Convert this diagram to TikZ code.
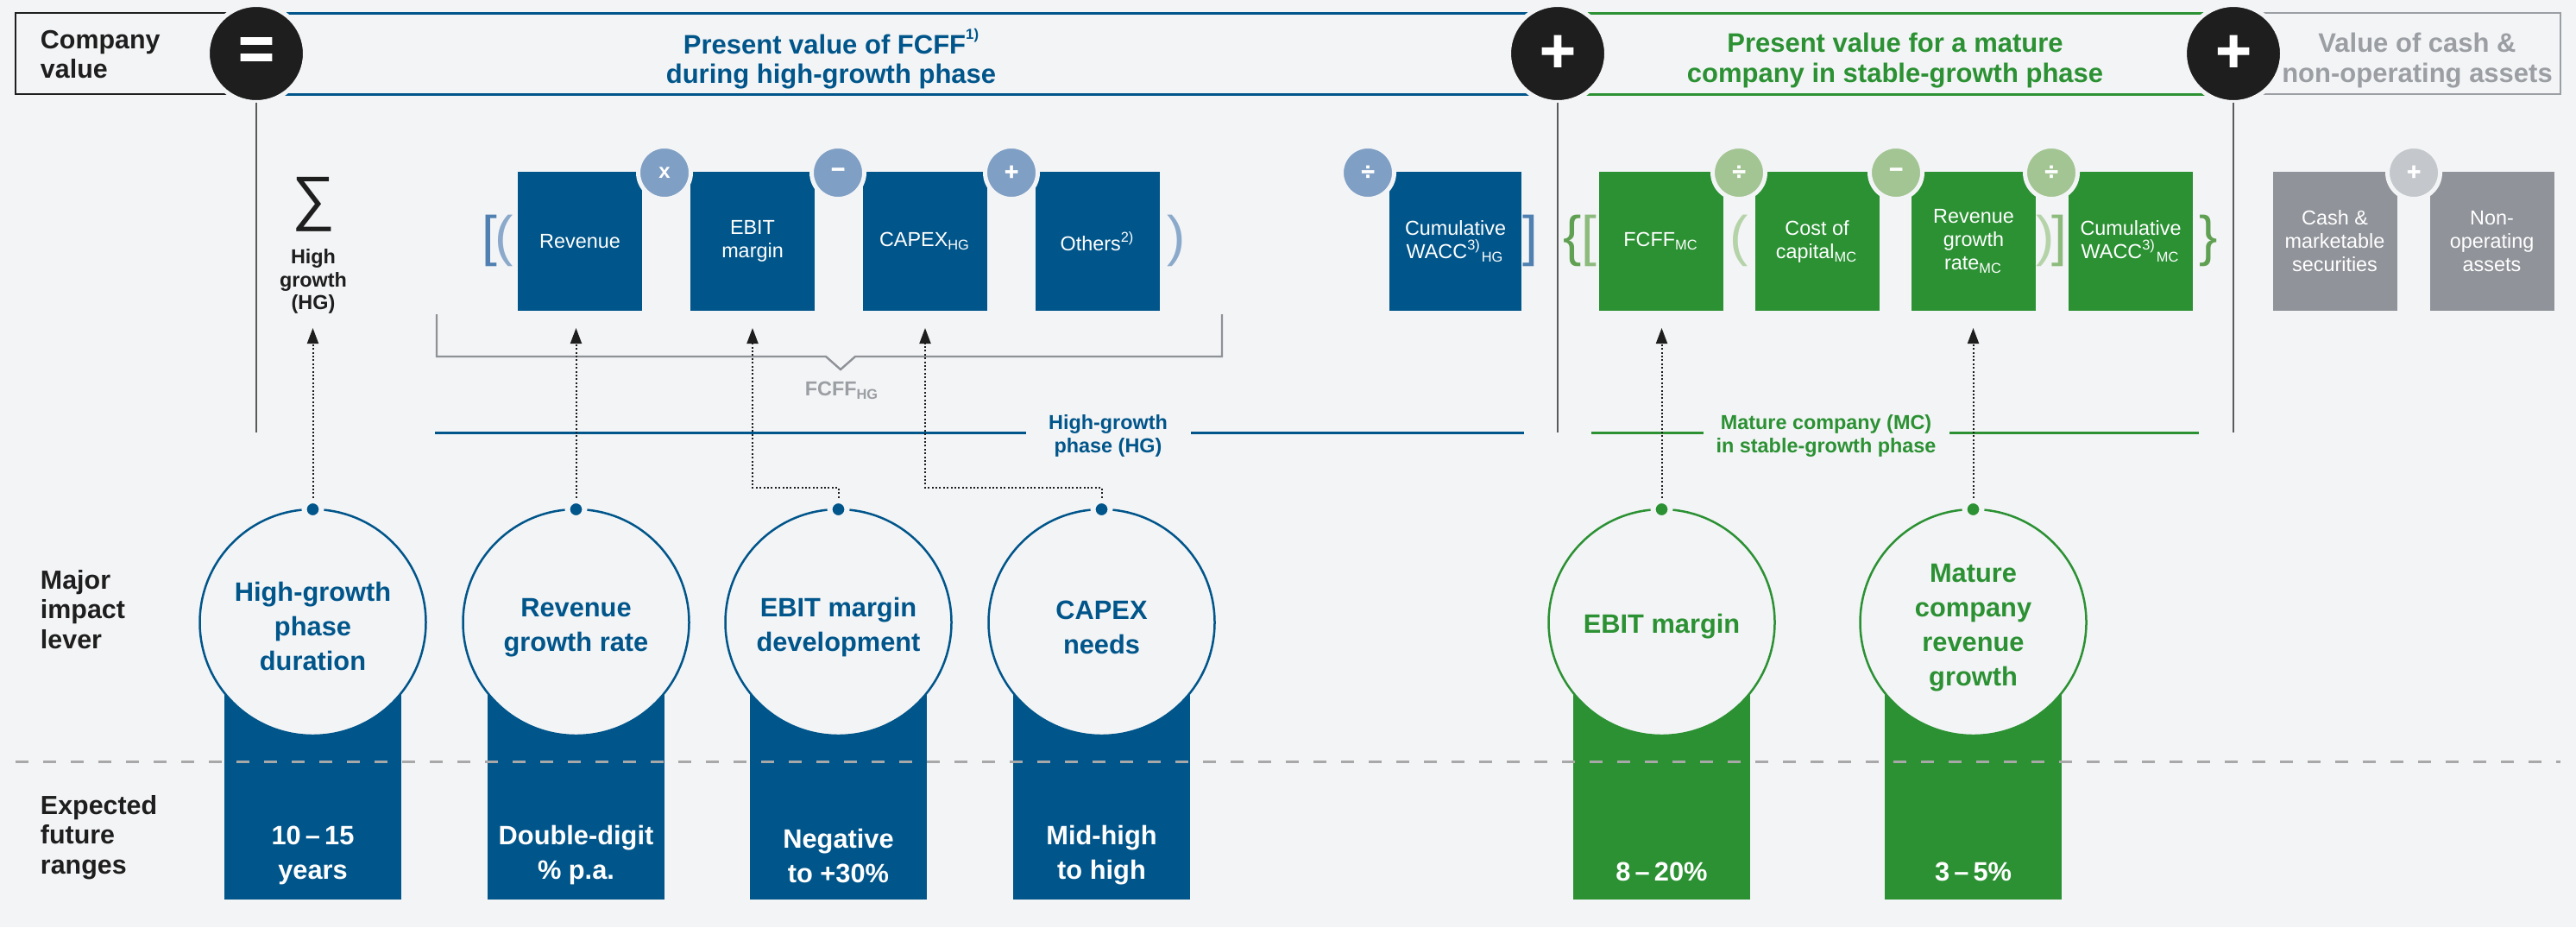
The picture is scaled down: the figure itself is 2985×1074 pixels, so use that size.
\documentclass[tikz,border=0pt]{standalone}
\usepackage{fontspec}
\setmainfont{Liberation Sans}
\newfontfamily\opfont{Liberation Sans}[FakeBold=1.5]
\usetikzlibrary{arrows.meta,calc}
\definecolor{bgc}{HTML}{F3F4F6}
\definecolor{dblue}{HTML}{00558A}
\definecolor{dgreen}{HTML}{2B9133}
\definecolor{lblue}{HTML}{7F9FC5}
\definecolor{lgreen}{HTML}{A3C593}
\definecolor{gbox}{HTML}{909399}
\definecolor{lgrey}{HTML}{C4C7CB}
\definecolor{gtext}{HTML}{9B9EA3}
\definecolor{blk}{HTML}{1E1E1E}
\definecolor{vlc}{HTML}{5A5A5A}
\definecolor{brc}{HTML}{8E9297}
\definecolor{dashc}{HTML}{A8A8A8}
\definecolor{bblue}{HTML}{4F80B1}
\definecolor{pblue}{HTML}{8BAACB}
\definecolor{bgreen}{HTML}{5FA052}
\definecolor{pgreen}{HTML}{8DBB7D}
\definecolor{ppgreen}{HTML}{B5D3A8}
\newcommand{\tsup}[1]{\raisebox{0.55em}{\fontsize{4.2}{4.2}\selectfont #1}}
\tikzset{
 hdtitle/.style={align=center, font=\bfseries\fontsize{7.75}{8.6}\selectfont},
 sidelbl/.style={align=left, anchor=west, text=blk, font=\bfseries\fontsize{7.6}{8.6}\selectfont},
 compbox/.style={rectangle, minimum width=36pt, minimum height=40.25pt, align=center, text=white, font=\fontsize{5.85}{6.75}\selectfont},
 opc/.style={circle, minimum size=15.25pt, draw=bgc, line width=1.25pt, text=white, font=\opfont\bfseries\fontsize{7}{7}\selectfont},
 bigop/.style={circle, minimum size=28.25pt, fill=blk, draw=bgc, line width=1.25pt, text=white, font=\opfont\bfseries\fontsize{17.75}{18}\selectfont},
 brkt/.style={font=\fontsize{16}{16}\selectfont},
 lever/.style={circle, minimum size=65.5pt, fill=bgc, line width=0.625pt},
 levtxt/.style={align=center, font=\bfseries\fontsize{7.7}{10}\selectfont},
 dotn/.style={circle, minimum size=5pt, draw=bgc, line width=1.5pt},
 rtxt/.style={align=center, text=white, font=\bfseries\fontsize{7.7}{10}\selectfont},
 phaselbl/.style={align=center, font=\bfseries\fontsize{5.85}{6.75}\selectfont},
 dotarr/.style={draw=blk, line width=0.5pt, dash pattern=on 0.5pt off 0.6pt, -{Triangle[length=4.5pt,width=3.25pt]}},
 vl/.style={draw=vlc, line width=0.5pt},
 band/.style={line width=0.75pt},
}
\begin{document}
\begin{tikzpicture}[x=0.25pt,y=-0.25pt, every node/.style={inner sep=0pt, outer sep=0pt}]
\fill[bgc] (0,0) rectangle (2985,1074);
\useasboundingbox (0,0) rectangle (2985,1074);

% ---------- header bands
\draw[blk, line width=0.5pt] (297,15) -- (18,15) -- (18,109) -- (297,109);
\draw[dblue, band] (297,15) -- (1805,15) (297,109) -- (1805,109);
\draw[dgreen, band] (1805,15) -- (2588,15) (1805,109) -- (2588,109);
\draw[gtext, line width=0.6pt] (2588,15) -- (2967,15) -- (2967,109) -- (2588,109);

\node[bigop] (eq) at (297,62) {=};
\node[bigop] (plusA) at (1805,62) {+};
\node[bigop] (plusB) at (2588,62) {+};

\node[sidelbl] (cv) at (47,63) {Company\\value};
\node[hdtitle, text=dblue] (t1) at (963,68) {Present value of FCFF\tsup{1)}\\during high-growth phase};
\node[hdtitle, text=dgreen] (t2) at (2196,70) {Present value for a mature\\company in stable-growth phase};
\node[hdtitle, text=gtext] (t3) at (2801,70) {Value of cash \&\\non-operating assets};

% vertical separators
\coordinate (vA) at (297,501);
\coordinate (vB) at (1805,501);
\coordinate (vC) at (2588,501);
\draw[vl] (eq.south) -- (vA);
\draw[vl] (plusA.south) -- (vB);
\draw[vl] (plusB.south) -- (vC);

% ---------- sigma
\node[font=\fontsize{17.5}{18}\selectfont, text=blk] (sig) at (363,237) {∑};
\node[phaselbl, text=blk, font=\bfseries\fontsize{5.85}{6.6}\selectfont] (hg) at (363,326) {High\\growth\\(HG)};

% ---------- component boxes
\node[compbox, fill=dblue] (rev) at (672,279.5) {Revenue};
\node[compbox, fill=dblue] (ebit) at (872,279.5) {EBIT\\margin};
\node[compbox, fill=dblue] (capex) at (1072,279.5) {CAPEX\textsubscript{HG}};
\node[compbox, fill=dblue] (oth) at (1272,279.5) {Others\textsuperscript{2)}};
\node[compbox, fill=dblue, minimum width=38.25pt] (wacchg) at (1686.5,279.5) {Cumulative\\WACC\textsuperscript{3)}\textsubscript{HG}};
\node[compbox, fill=dgreen] (fcffmc) at (1925,279.5) {FCFF\textsubscript{MC}};
\node[compbox, fill=dgreen] (cost) at (2105.5,279.5) {Cost of\\capital\textsubscript{MC}};
\node[compbox, fill=dgreen] (rgr) at (2287,279.5) {Revenue\\growth\\rate\textsubscript{MC}};
\node[compbox, fill=dgreen] (waccmc) at (2469,279.5) {Cumulative\\WACC\textsuperscript{3)}\textsubscript{MC}};
\node[compbox, fill=gbox] (cash) at (2705.5,279.5) {Cash \&\\marketable\\securities};
\node[compbox, fill=gbox] (nonop) at (2887.5,279.5) {Non-\\operating\\assets};

% operators
\node[opc, fill=lblue, font=\bfseries\fontsize{6}{6}\selectfont] (o1) at (770,200) {x};
\node[opc, fill=lblue] (o2) at (971,200) {−};
\node[opc, fill=lblue] (o3) at (1172,200) {+};
\node[opc, fill=lblue] (o4) at (1585,200) {÷};
\node[opc, fill=lgreen] (o5) at (2015,200) {÷};
\node[opc, fill=lgreen] (o6) at (2197,200) {−};
\node[opc, fill=lgreen] (o7) at (2377,200) {÷};
\node[opc, fill=lgrey] (o8) at (2797,200) {+};

% brackets
\node[brkt, text=bblue] (b1) at (567.5,279) {[};
\node[brkt, text=pblue] (b2) at (584.5,279) {(};
\node[brkt, text=pblue] (b3) at (1363,279) {)};
\node[brkt, text=bblue] (b4) at (1773.5,279) {]};
\node[brkt, text=bgreen] (b5) at (1822,279) {\{};
\node[brkt, text=pgreen] (b6) at (1841.5,279) {[};
\node[brkt, text=ppgreen] (b7) at (2015.5,279) {(};
\node[brkt, text=ppgreen] (b8) at (2370,279) {)};
\node[brkt, text=pgreen] (b9) at (2386.5,279) {]};
\node[brkt, text=bgreen] (b10) at (2559,279) {\}};

% FCFF HG bracket
\draw[brc, line width=0.6pt] (506,364) -- (506,413) -- (957,413) -- (974,428) -- (991,413) -- (1416,413) -- (1416,364);
\node[phaselbl, text=gtext] (fcffhg) at (976,452) {FCFF\textsubscript{HG}};

% phase lines
\node[phaselbl, text=dblue] (phg) at (1284,505) {High-growth\\phase (HG)};
\draw[dblue, band] (504,501) -- (1189,501) (1380,501) -- (1766,501);
\node[phaselbl, text=dgreen] (pmc) at (2116,505) {Mature company (MC)\\in stable-growth phase};
\draw[dgreen, band] (1844,501) -- (1974,501) (2259,501) -- (2548,501);

% ---------- lever rects
\fill[dblue] (260,803) rectangle (465,1042);
\fill[dblue] (565,803) rectangle (770,1042);
\fill[dblue] (869,803) rectangle (1074,1042);
\fill[dblue] (1174,803) rectangle (1379,1042);
\fill[dgreen] (1823,803) rectangle (2028,1042);
\fill[dgreen] (2184,803) rectangle (2389,1042);

% lever circles
\node[lever, draw=dblue] (l1) at (362.5,721) {};
\node[lever, draw=dblue] (l2) at (667.5,721) {};
\node[lever, draw=dblue] (l3) at (971.5,721) {};
\node[lever, draw=dblue] (l4) at (1276.5,721) {};
\node[lever, draw=dgreen] (l5) at (1925.5,721) {};
\node[lever, draw=dgreen] (l6) at (2286.5,721) {};
\node[levtxt, text=dblue] (lt1) at (362.5,725) {High-growth\\phase\\duration};
\node[levtxt, text=dblue] (lt2) at (667.5,727) {Revenue\\growth rate};
\node[levtxt, text=dblue] (lt3) at (971.5,727) {EBIT margin\\development};
\node[levtxt, text=dblue] (lt4) at (1276.5,727) {CAPEX\\needs};
\node[levtxt, text=dgreen] (lt5) at (1925.5,726) {EBIT margin};
\node[levtxt, text=dgreen] (lt6) at (2286.5,727) {Mature\\company\\revenue\\growth};

% range texts
\node[rtxt] (r1) at (362.5,991) {10\,–\,15\\years};
\node[rtxt] (r2) at (667.5,991) {Double-digit\\\% p.a.};
\node[rtxt] (r3) at (971.5,991) {Negative\\to +30\%};
\node[rtxt] (r4) at (1276.5,991) {Mid-high\\to high};
\node[rtxt] (r5) at (1925.5,1010) {8\,–\,20\%};
\node[rtxt] (r6) at (2286.5,1010) {3\,–\,5\%};

% left labels
\node[sidelbl] (mil) at (47,706) {Major\\impact\\lever};
\node[sidelbl] (efr) at (47,970) {Expected\\future\\ranges};

% dashed separator
\draw[dashc, line width=0.75pt, dash pattern=on 3.75pt off 4.25pt] (18,882) -- (2967,882);

% ---------- dotted arrows
\coordinate (hl) at (0,565);
\coordinate (sigtip) at (362.5,380);
\draw[dotarr] (l1.north) -- (sigtip);
\draw[dotarr, shorten >=5pt] (l2.north) -- (l2.north |- rev.south);
\draw[dotarr, shorten >=5pt] (l3.north) -- (l3.north |- hl) -| (ebit.south);
\draw[dotarr, shorten >=5pt] (l4.north) -- (l4.north |- hl) -| (capex.south);
\draw[dotarr, shorten >=5pt] (l5.north) -- (l5.north |- fcffmc.south);
\draw[dotarr, shorten >=5pt] (l6.north) -- (l6.north |- rgr.south);

% dots
\node[dotn, fill=dblue] (d1) at (l1.north) {};
\node[dotn, fill=dblue] (d2) at (l2.north) {};
\node[dotn, fill=dblue] (d3) at (l3.north) {};
\node[dotn, fill=dblue] (d4) at (l4.north) {};
\node[dotn, fill=dgreen] (d5) at (l5.north) {};
\node[dotn, fill=dgreen] (d6) at (l6.north) {};
\end{tikzpicture}
\end{document}
